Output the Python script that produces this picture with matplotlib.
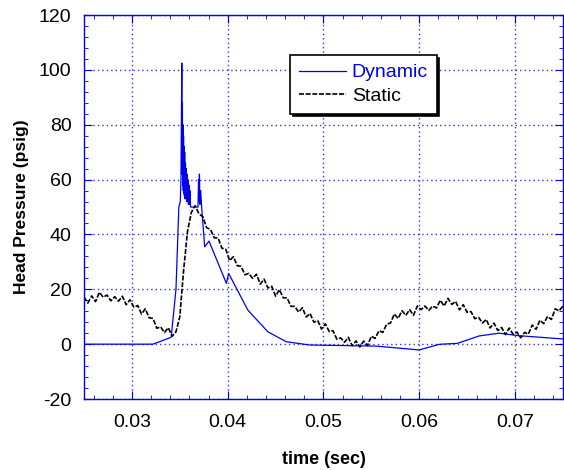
import numpy as np
import matplotlib
matplotlib.use("Agg")
import matplotlib.pyplot as plt
from matplotlib.ticker import MultipleLocator

plt.rcParams['font.family'] = ['Liberation Sans', 'DejaVu Sans']
plt.rcParams['axes.unicode_minus'] = False

# dynamic pressure trace (time in s, pressure in psig)
t_dynamic = [0.0250, 0.0322, 0.0341, 0.0346, 0.0349, 0.03505, 0.03512, 0.03518,
             0.03521, 0.03524, 0.03527, 0.03530, 0.03533, 0.03536, 0.03539, 0.03542,
             0.03545, 0.03548, 0.03551, 0.03555, 0.03559, 0.03563, 0.03567, 0.03571,
             0.03575, 0.03580, 0.03585, 0.03590, 0.03595, 0.03600, 0.03606, 0.03612,
             0.03622, 0.03690, 0.03696, 0.03700, 0.03705, 0.03710, 0.03718, 0.03728,
             0.03760, 0.03805, 0.03986, 0.04010, 0.04211, 0.04420, 0.04611, 0.04854,
             0.05550, 0.06000, 0.06210, 0.06400, 0.06625, 0.06833, 0.07040, 0.07500]
p_dynamic = [0, 0, 2.5, 20, 50, 52, 60, 88,
             102.5, 62, 88, 58, 80, 56, 76, 55,
             72, 54, 70, 53, 66, 53, 64, 52,
             62, 52, 60, 51, 58, 51, 56, 50,
             50, 50, 60, 52, 62, 51, 56, 50,
             35.5, 37.6, 22.2, 25.8, 12.4, 4.5, 0.9, -0.3,
             -0.7, -2.1, -0.05, 0.3, 3.0, 4.0, 3.1, 1.9]

# static pressure trace, sampled every 0.4 ms from 0.025 s to 0.075 s
p_static = [17.2, 15.0, 17.6, 15.5, 18.9, 17.1, 17.9, 15.8, 17.3, 15.7,
            17.5, 14.4, 16.2, 13.5, 14.1, 11.0, 12.9, 9.6, 9.4, 5.8,
            6.3, 4.2, 6.0, 2.9, 4.5, 10.0, 27.0, 41.0, 48.0, 50.5,
            47.5, 46.5, 42.5, 41.8, 38.8, 38.7, 35.0, 34.6, 30.5, 31.9,
            28.6, 28.4, 25.3, 25.8, 24.0, 25.5, 21.9, 23.7, 20.5, 21.1,
            17.5, 19.9, 16.9, 16.9, 13.8, 13.8, 11.7, 13.3, 9.9, 11.2,
            8.0, 8.6, 5.5, 7.4, 4.6, 4.9, 1.8, 2.3, 0.7, 2.5,
            -0.6, 1.2, -1.0, 1.1, -0.5, 2.9, 2.1, 4.9, 4.3, 7.3,
            7.7, 11.0, 9.4, 12.2, 10.5, 12.6, 10.5, 13.9, 12.6, 13.9,
            12.3, 13.9, 13.2, 16.0, 13.9, 16.7, 14.5, 15.6, 12.5, 14.4,
            11.6, 11.9, 9.3, 9.8, 7.7, 9.0, 5.9, 7.7, 5.0, 6.1,
            3.5, 5.9, 3.6, 4.4, 2.3, 4.3, 3.7, 7.0, 5.4, 8.7,
            7.5, 10.1, 9.0, 12.9, 12.1, 13.9]
t_static = np.linspace(0.025, 0.075, len(p_static))

blue = '#0000ee'

fig = plt.figure(figsize=(5.64, 4.70), dpi=100)
ax = fig.add_axes([0.149, 0.151, 0.849, 0.817])

ax.plot(t_dynamic, p_dynamic, color=blue, lw=0.9, label='Dynamic')
ax.plot(t_static, p_static, color='black', lw=1.2, ls=(0, (3, 1)), label='Static')

ax.set_xlim(0.025, 0.075)
ax.set_ylim(-20, 120)
ax.xaxis.set_major_locator(MultipleLocator(0.01))
ax.xaxis.set_minor_locator(MultipleLocator(0.002))
ax.yaxis.set_major_locator(MultipleLocator(20))
ax.yaxis.set_minor_locator(MultipleLocator(4))

ax.grid(True, which='major', color='#3535e8', ls=(0, (1, 2.2)), lw=1.0)
for s in ax.spines.values():
    s.set_color(blue)
    s.set_linewidth(1.0)
ax.tick_params(which='both', direction='in', top=True, right=True, color=blue,
               labelsize=14, labelcolor='black')
ax.tick_params(which='major', length=6)
ax.tick_params(which='minor', length=3)
ax.tick_params(axis='x', pad=11)
ax.tick_params(axis='y', pad=9)

ax.set_xlabel('time (sec)', fontsize=13, fontweight='bold', labelpad=14)
ax.set_ylabel('Head Pressure (psig)', fontsize=12.5, fontweight='bold', labelpad=7)

leg = ax.legend(loc='upper left', bbox_to_anchor=(0.431, 0.896), borderaxespad=0,
                fontsize=14, fancybox=False, edgecolor='black', framealpha=1,
                shadow={'color': 'black', 'alpha': 1, 'ox': 2, 'oy': -2},
                handlelength=2.4, handletextpad=0.3, borderpad=0.45, labelspacing=0.3)
leg.get_frame().set_linewidth(1.2)
leg.get_texts()[0].set_color(blue)

plt.savefig('out.png', dpi=100)
